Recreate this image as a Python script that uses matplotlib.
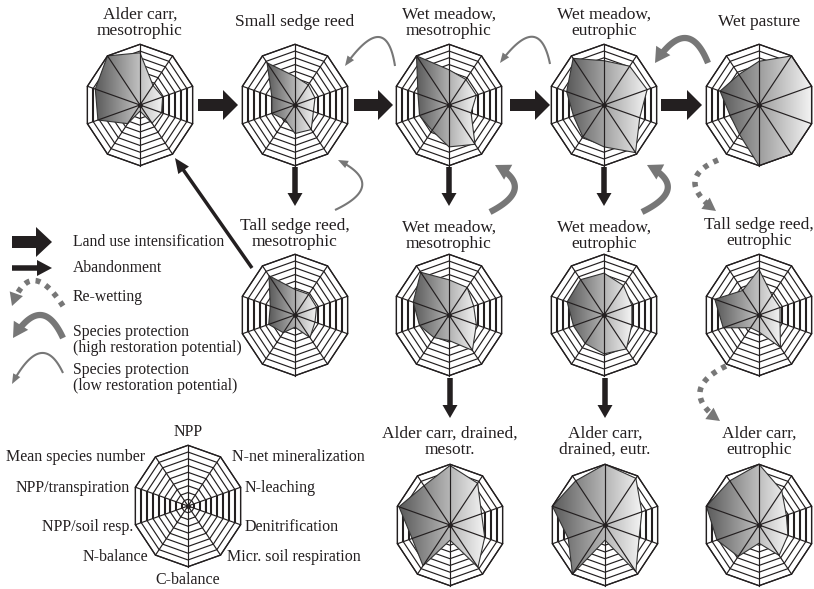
import numpy as np
import matplotlib.pyplot as plt
from matplotlib.patches import Polygon, FancyArrow
from matplotlib.colors import LinearSegmentedColormap

plt.rcParams["font.family"] = ["Liberation Serif", "DejaVu Serif"]

# ------------------------------------------------------------
# Data: 10 indicators, clockwise from the top (fraction of outer ring)
# ------------------------------------------------------------
axis_labels = ["NPP", "N-net mineralization", "N-leaching", "Denitrification",
               "Micr. soil respiration", "C-balance", "N-balance",
               "NPP/soil resp.", "NPP/transpiration", "Mean species number"]

alder_meso      = [0.86, 0.40, 0.43, 0.41, 0.37, 0.10, 0.38, 0.80, 0.85, 1.00]
small_sedge     = [0.47, 0.41, 0.38, 0.35, 0.50, 0.47, 0.30, 0.44, 0.44, 0.86]
wet_meadow_m1   = [0.58, 0.52, 0.52, 0.42, 0.80, 0.69, 0.52, 0.56, 0.59, 1.00]
wet_meadow_e1   = [0.73, 0.79, 0.82, 0.68, 0.97, 0.69, 0.65, 0.58, 0.71, 0.95]
wet_pasture     = [0.72, 1.00, 1.00, 1.00, 1.00, 1.00, 0.60, 0.55, 0.74, 0.62]
tall_sedge_meso = [0.42, 0.42, 0.41, 0.38, 0.46, 0.20, 0.36, 0.50, 0.47, 0.80]
wet_meadow_m2   = [0.58, 0.56, 0.47, 0.52, 0.72, 0.42, 0.46, 0.56, 0.68, 0.87]
wet_meadow_e2   = [0.69, 0.60, 0.53, 0.53, 0.69, 0.64, 0.58, 0.58, 0.70, 0.72]
tall_sedge_eutr = [0.75, 0.40, 0.40, 0.40, 0.66, 0.28, 0.26, 0.68, 0.84, 0.50]
alder_dr_meso   = [0.98, 0.85, 0.60, 0.66, 0.86, 0.25, 0.83, 0.72, 0.97, 0.80]
alder_dr_eutr   = [1.00, 0.95, 0.70, 0.65, 0.95, 0.25, 1.00, 0.70, 1.00, 0.90]
alder_eutr      = [1.00, 0.70, 0.52, 0.55, 0.62, 0.30, 0.64, 0.80, 1.00, 0.90]

titles = ["Alder carr,\nmesotrophic", "Small sedge reed", "Wet meadow,\nmesotrophic",
          "Wet meadow,\neutrophic", "Wet pasture", "Tall sedge reed,\nmesotrophic",
          "Wet meadow,\nmesotrophic", "Wet meadow,\neutrophic", "Tall sedge reed,\neutrophic",
          "Alder carr, drained,\nmesotr.", "Alder carr,\ndrained, eutr.", "Alder carr,\neutrophic"]
profiles = [alder_meso, small_sedge, wet_meadow_m1, wet_meadow_e1, wet_pasture,
            tall_sedge_meso, wet_meadow_m2, wet_meadow_e2, tall_sedge_eutr,
            alder_dr_meso, alder_dr_eutr, alder_eutr]

legend_items = ["Land use intensification", "Abandonment", "Re-wetting",
                "Species protection\n(high restoration potential)",
                "Species protection\n(low restoration potential)"]

# ------------------------------------------------------------
# Layout (pixel coordinates)
# ------------------------------------------------------------
centers = [(140, 105), (295, 105), (449, 105), (604, 105), (759, 105),
           (295, 315), (449, 315), (604, 315), (759, 315),
           (450, 525), (605, 525), (759, 525)]
title_y = [23, 22, 23, 23, 22, 234, 236, 236, 233, 442, 442, 442]

INK = "#231f20"
GRAY = "#777777"
RX, RY, NRINGS = 55.3, 60.7, 9
cmap = LinearSegmentedColormap.from_list("g", ["#5a5a5a", "#a8a8a8", "#f4f4f4"])
grad = np.linspace(0, 1, 256)[None, :]
ang = np.deg2rad(90 - 36 * np.arange(10))
UX, UY = np.cos(ang), -np.sin(ang)

fig = plt.figure(figsize=(8.14, 5.89), dpi=100)
ax = fig.add_axes([0, 0, 1, 1])


def draw_radar(cx, cy, vals=None):
    for k in range(1, NRINGS + 1):
        f = k / NRINGS
        xs, ys = cx + RX * f * UX, cy + RY * f * UY
        ax.add_patch(Polygon(np.c_[xs, ys], closed=True, fill=False,
                             ec=INK, lw=0.85, zorder=1))
        if k < NRINGS:
            for a, b in [(2, 3), (7, 8)]:
                ax.plot([xs[a], xs[b]], [ys[a], ys[b]], color=INK, lw=1.5,
                        zorder=1, solid_capstyle="butt")
    if vals is not None:
        v = np.asarray(vals)
        px, py = cx + RX * v * UX, cy + RY * v * UY
        poly = Polygon(np.c_[px, py], closed=True, fc="none", ec="#333333",
                       lw=0.8, zorder=3)
        ax.add_patch(poly)
        im = ax.imshow(grad, cmap=cmap, extent=[px.min(), px.max(), py.max(), py.min()],
                       aspect="auto", zorder=2, interpolation="bilinear")
        im.set_clip_path(poly)
    for i in range(10):
        ax.plot([cx, cx + RX * UX[i]], [cy, cy + RY * UY[i]], color=INK, lw=0.85, zorder=4)
    ax.add_patch(Polygon(np.c_[cx + RX * UX, cy + RY * UY], closed=True, fill=False,
                         ec=INK, lw=0.95, zorder=4))
    ax.plot(cx, cy, "o", ms=2.5, color=INK, zorder=5)


def block_arrow(x0, y0, x1, y1, width, hw, hl):
    ax.add_patch(FancyArrow(x0, y0, x1 - x0, y1 - y0, width=width, head_width=hw,
                            head_length=hl, length_includes_head=True,
                            color=INK, lw=0, zorder=6))


def curved_arrow(p0, pc, p1, lw, hw, hl, color=GRAY, dotted=False):
    p0, pc, p1 = map(np.asarray, (p0, pc, p1))
    t = np.linspace(0, 1, 100)[:, None]
    pts = (1 - t) ** 2 * p0 + 2 * (1 - t) * t * pc + t ** 2 * p1
    d = p1 - pc
    d = d / np.hypot(*d)
    n = np.array([-d[1], d[0]])
    keep = np.hypot(*(pts - p1).T) > hl * 0.7
    ls = (0, (0.9, 1.1)) if dotted else "-"
    ax.plot(pts[keep, 0], pts[keep, 1], color=color, lw=lw, ls=ls,
            solid_capstyle="butt", zorder=6)
    base = p1 - d * hl
    ax.add_patch(Polygon([p1, base + n * hw / 2, base - n * hw / 2], closed=True,
                         fc=color, ec="none", zorder=6))


for (cx, cy), vals, ttl, ty in zip(centers, profiles, titles, title_y):
    draw_radar(cx, cy, vals)
    ax.text(cx, ty, ttl, ha="center", va="center", fontsize=12.5,
            color=INK, linespacing=1.0)

# key radar
kc = (188, 506)
draw_radar(*kc)
key_pos = [(188, 432, "center"), (232, 457, "left"), (245, 488, "left"),
           (245, 527, "left"), (227, 557, "left"), (188, 580, "center"),
           (148, 557, "right"), (133, 527, "right"), (130, 488, "right"),
           (145, 457, "right")]
for lab, (x, y, ha) in zip(axis_labels, key_pos):
    ax.text(x, y, lab, ha=ha, va="center", fontsize=11.5, color=INK)

# transitions
for x0, x1 in [(198, 238), (354, 393), (510, 550), (661, 702)]:
    block_arrow(x0, 105, x1, 105, 12, 30, 15)
for x, y0, y1 in [(295, 167, 206), (449, 167, 206), (604, 167, 206),
                  (450, 378, 418), (605, 378, 418)]:
    block_arrow(x, y0, x, y1, 5.5, 15, 13)
block_arrow(252, 268, 175, 158, 3.5, 13, 15)

curved_arrow((335, 210), (388, 185), (338, 160), 1.5, 8, 10)
curved_arrow((395, 66), (386, 8), (345, 66), 1.5, 8, 10)
curved_arrow((550, 64), (539, 10), (500, 63), 1.5, 8, 10)
curved_arrow((708, 63), (688, 13), (655, 63), 4.5, 17, 15)
curved_arrow((490, 212), (537, 188), (495, 165), 4.5, 17, 15)
curved_arrow((642, 212), (691, 188), (647, 165), 4.5, 17, 15)
curved_arrow((718, 160), (673, 179), (716, 211), 4, 14, 13, dotted=True)
curved_arrow((726, 366), (677, 390), (720, 421), 4, 14, 13, dotted=True)

# legend
block_arrow(12, 242, 52, 242, 12, 30, 16)
block_arrow(12, 268, 52, 268, 5.5, 16, 15)
curved_arrow((63, 306), (30, 255), (12, 306), 4, 14, 13, dotted=True)
curved_arrow((63, 338), (42, 292), (13, 338), 4.5, 17, 15)
curved_arrow((63, 373), (42, 328), (12, 384), 1.5, 8, 10)
leg_y = [242, 268, 297, 340, 378]
for lab, y in zip(legend_items, leg_y):
    ax.text(73, y, lab, ha="left", va="center", fontsize=11.3, color=INK, linespacing=1.05)

ax.set_xlim(0, 814)
ax.set_ylim(589, 0)
ax.axis("off")
fig.savefig("out.png", dpi=100)
